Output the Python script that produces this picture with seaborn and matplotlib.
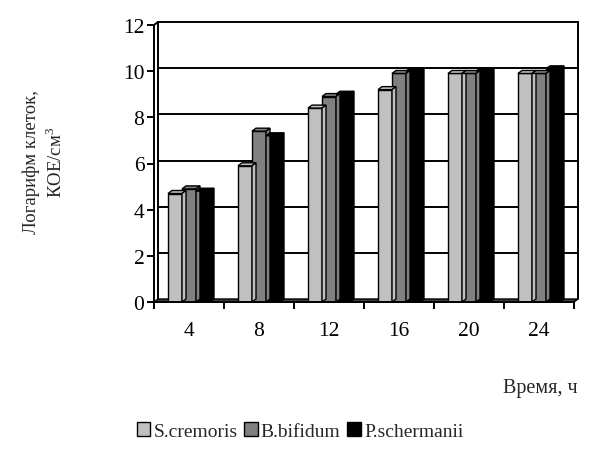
import numpy as np
import pandas as pd
import matplotlib
matplotlib.use("Agg")
import matplotlib.pyplot as plt
from matplotlib.patches import Polygon
import seaborn as sns

# data
hours = ["4", "8", "12", "16", "20", "24"]
s_cremoris = [4.7, 5.9, 8.4, 9.2, 9.9, 9.9]
b_bifidum = [4.9, 7.4, 8.9, 9.9, 9.9, 9.9]
p_schermanii = [4.8, 7.2, 9.0, 10.0, 10.0, 10.1]
series_names = ["S.cremoris", "B.bifidum", "P.schermanii"]
series_colors = ["#C0C0C0", "#808080", "#000000"]
y_ticks = [0, 2, 4, 6, 8, 10, 12]

df = pd.DataFrame({
    "hour": hours * 3,
    "value": s_cremoris + b_bifidum + p_schermanii,
    "strain": np.repeat(series_names, len(hours)),
})

sns.set_theme(style="white")
plt.rcParams["font.family"] = ["Liberation Serif", "DejaVu Serif"]
plt.rcParams["mathtext.fontset"] = "custom"
plt.rcParams["mathtext.rm"] = "Liberation Serif"

W, H = 596, 460
fig = plt.figure(figsize=(W / 100, H / 100), dpi=100)
# front axis: x 154..574 px, y 303..26 px
ax = fig.add_axes([154 / W, 1 - 303 / H, 420 / W, 277 / H])

sns.barplot(data=df, x="hour", y="value", hue="strain", order=hours,
            hue_order=series_names, palette=series_colors, width=0.6,
            edgecolor="black", linewidth=1.0, saturation=1, ax=ax, legend=False)

ax.set_xlim(-0.5, 5.5)
ax.set_ylim(0, 12)
ax.set_xlabel("")
ax.set_ylabel("")

# depth of the pseudo-3D look, in pixels -> data units
dpx, dpy = 4, 3
dx = dpx * 6 / 420
dy = dpy * 12 / 277

bars = [p for p in ax.patches if p.get_height() > 0]

# back wall grid lines and frame
for t in y_ticks[1:]:
    ax.plot([-0.5 + dx, 5.5 + dx], [t + dy, t + dy], color="black", lw=1.4,
            clip_on=False, zorder=0.5)
ax.plot([-0.5 + dx, -0.5 + dx], [dy, 12 + dy], color="black", lw=1.4, clip_on=False, zorder=0.5)
ax.plot([5.5 + dx, 5.5 + dx], [dy, 12 + dy], color="black", lw=1.4, clip_on=False, zorder=0.5)
ax.plot([-0.5, -0.5 + dx], [12, 12 + dy], color="black", lw=1.4, clip_on=False)

# floor
floor = Polygon([(-0.5, 0), (5.5, 0), (5.5 + dx, dy), (-0.5 + dx, dy)],
                closed=True, facecolor="#404040", edgecolor="black", lw=1.0,
                clip_on=False, zorder=0.8)
ax.add_patch(floor)

# depth faces of each bar
for bar in bars:
    x0, w, h = bar.get_x(), bar.get_width(), bar.get_height()
    fc = bar.get_facecolor()
    top = Polygon([(x0, h), (x0 + w, h), (x0 + w + dx, h + dy), (x0 + dx, h + dy)],
                  closed=True, facecolor=fc, edgecolor="black", lw=1.0, clip_on=False,
                  zorder=bar.get_zorder())
    side = Polygon([(x0 + w, 0), (x0 + w, h), (x0 + w + dx, h + dy), (x0 + w + dx, dy)],
                   closed=True, facecolor=fc, edgecolor="black", lw=1.0, clip_on=False,
                   zorder=bar.get_zorder())
    ax.add_patch(top)
    ax.add_patch(side)

# spines / ticks
for s in ["top", "right"]:
    ax.spines[s].set_visible(False)
ax.spines["left"].set_color("black")
ax.spines["bottom"].set_color("black")
ax.spines["left"].set_linewidth(1.4)
ax.spines["bottom"].set_linewidth(1.4)
ax.set_yticks(y_ticks)
ax.set_xticks(np.arange(len(hours)))
ax.set_xticklabels(hours)
ax.tick_params(axis="both", labelsize=15.5, colors="black", length=5, width=1.4,
               direction="out", left=True, bottom=False)
ax.tick_params(axis="y", pad=2)
ax.tick_params(axis="x", pad=9)
# category boundary ticks on the x axis
ax.set_xticks(np.arange(-0.5, 6.0, 1.0), minor=True)
ax.tick_params(axis="x", which="minor", length=5, width=1.4, bottom=True, color="black")

fig.text(44 / W, 1 - 162 / H, "Логарифм клеток,\nКОЕ/см$^3$", rotation=90,
         ha="center", va="center", multialignment="center", fontsize=13.5,
         linespacing=1.3)
fig.text(540 / W, 1 - 389 / H, "Время, ч", ha="center", va="center", fontsize=14.5)

handles = [plt.Rectangle((0, 0), 1, 1, facecolor=c, edgecolor="black", lw=1.0)
           for c in series_colors]
fig.legend(handles, series_names, loc="center", bbox_to_anchor=(300 / W, 1 - 432 / H),
           ncol=3, frameon=False, fontsize=14, handlelength=0.7, handleheight=0.7,
           handletextpad=0.15, columnspacing=0.35)

fig.savefig("out.png", dpi=100)
